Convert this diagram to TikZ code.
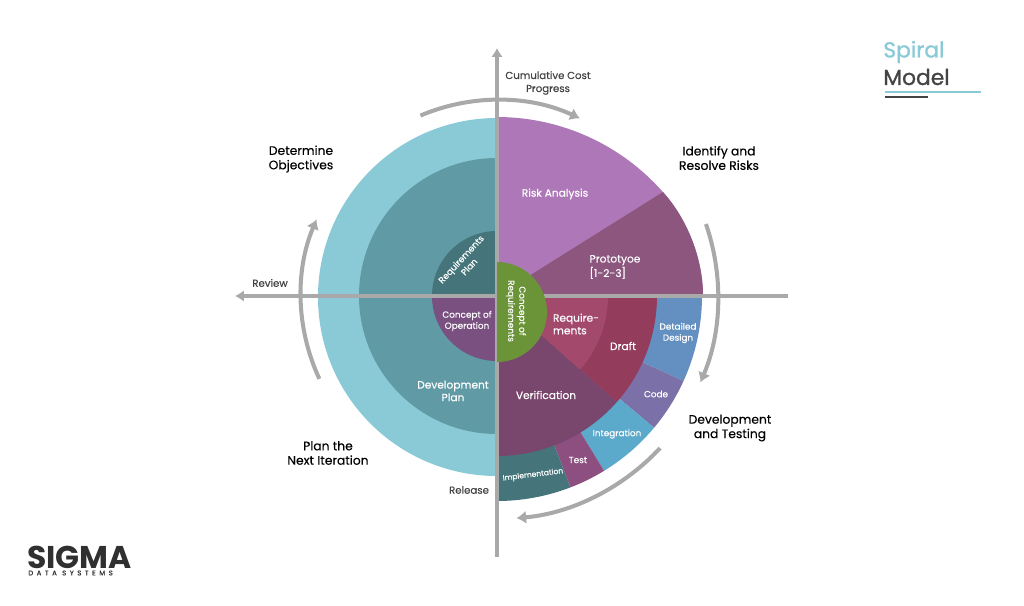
\documentclass[tikz,border=0pt]{standalone}
\usepackage{fontspec}
\setmainfont{Poppins}
\newfontfamily\labelfont[FakeBold=0.25]{Poppins}
\newfontfamily\titlefont[FakeBold=1.1]{Poppins}
\newfontfamily\logofont[LetterSpace=52, FakeBold=0.8]{Poppins}
\usepackage{xcolor}
\usetikzlibrary{
    arrows.meta,
    calc,
    positioning
}

\definecolor{lightteal}{HTML}{8ACAD6}
\definecolor{midteal}{HTML}{5F9AA5}
\definecolor{deepteal}{HTML}{45757B}
\definecolor{operpurple}{HTML}{7A5080}
\definecolor{riskviolet}{HTML}{AE78B8}
\definecolor{protoplum}{HTML}{8C567F}
\definecolor{reqrose}{HTML}{A34A6C}
\definecolor{draftred}{HTML}{933C5C}
\definecolor{verifplum}{HTML}{79466E}
\definecolor{detailblue}{HTML}{6390C0}
\definecolor{codeviolet}{HTML}{7C70A8}
\definecolor{integblue}{HTML}{5BA9CB}
\definecolor{testplum}{HTML}{8C4F80}
\definecolor{conceptgreen}{HTML}{6B9438}
\definecolor{axisgray}{HTML}{A9A9A9}
\definecolor{inkgray}{HTML}{444444}

\tikzset{
    inlabel/.style={text=white, font=\labelfont\fontsize{6.05}{7.2}\selectfont, align=center, inner sep=0pt},
    smalllabel/.style={inlabel, font=\labelfont\fontsize{5.05}{6.3}\selectfont},
    outlabel/.style={text=black, font=\labelfont\fontsize{7}{8.2}\selectfont, align=center, inner sep=0pt},
    notelabel/.style={text=inkgray, font=\labelfont\fontsize{5.8}{7.4}\selectfont, align=center, inner sep=0pt},
    axisline/.style={draw=axisgray, line width=2pt, -{Latex[length=5pt, width=6.5pt]}},
    sweep/.style={draw=axisgray, line width=2.3pt, -{Latex[length=5.5pt, width=7.5pt]}}
}

\newcommand{\slice}[4]{\fill[#1] (0, 0) -- (#2:#4) arc[start angle=#2, end angle=#3, radius=#4] -- cycle;}

\begin{document}
\begin{tikzpicture}[x=0.02cm, y=0.02cm]
    \useasboundingbox (-497, -309) rectangle (527, 296);

    \fill[lightteal] (0, 178) arc[start angle=90, end angle=270, radius=179] -- cycle;
    \fill[midteal] (0, 138) arc[start angle=90, end angle=270, radius=138] -- cycle;
    \slice{deepteal}{90}{180}{65}
    \slice{operpurple}{180}{270}{65}

    \fill[riskviolet] (0, 0) -- (0, 179) arc[start angle=90, end angle=41.5, radius=221] .. controls (190.5, 77) and (206, 37) .. (206, 0) -- cycle;
    \begin{scope}
        \clip (0, 0) -- (332, 208) -- (332, 0) -- cycle;
        \fill[protoplum] (0, 0) -- (0, 179) arc[start angle=90, end angle=41.5, radius=221] .. controls (190.5, 77) and (206, 37) .. (206, 0) -- cycle;
    \end{scope}

    \slice{detailblue}{0}{-24.5}{205}
    \slice{codeviolet}{-24.5}{-40}{205}
    \slice{integblue}{-40}{-58.5}{205}
    \slice{testplum}{-58.5}{-69}{205}
    \slice{deepteal}{-69}{-90}{205}
    \slice{verifplum}{-41.5}{-90}{160}
    \slice{draftred}{0}{-41.5}{160}
    \slice{reqrose}{0}{-41.5}{111}

    \coordinate (axisleft) at (-262, 0);
    \coordinate (axisright) at (291, 0);
    \coordinate (axistop) at (0, 248);
    \coordinate (axisbottom) at (0, -261);

    \draw[axisline] (axisright) -- (axisleft);
    \draw[axisline] (axisbottom) -- (axistop);

    \fill[conceptgreen] (0, 34) arc[start angle=90, end angle=-90, radius=50] -- cycle;

    \draw[sweep] (113:196) arc[start angle=113, end angle=65, radius=196];
    \draw[sweep] (19:221) arc[start angle=19, end angle=-23, radius=221];
    \draw[sweep] (-43:223) arc[start angle=-43, end angle=-85, radius=223];
    \draw[sweep] (205:196) arc[start angle=205, end angle=157, radius=196];

    \node[inlabel, align=left] (risklabel) at (58, 102) {Risk Analysis};
    \node[inlabel, align=left] (protolabel) at (118, 29) {Prototyoe\\{[1-2-3]}};
    \node[inlabel, align=left] (reqlabel) at (79, -28) {Require-\\ments};
    \node[inlabel] (draftlabel) at (126, -50) {Draft};
    \node[smalllabel] (detaillabel) at (181, -37) {Detailed\\Design};
    \node[smalllabel] (codelabel) at (159, -98) {Code};
    \node[smalllabel] (integlabel) at (120, -138) {Integration};
    \node[smalllabel] (testlabel) at (81, -164) {Test};
    \node[smalllabel, rotate=7, font=\labelfont\fontsize{4.3}{5}\selectfont] (implabel) at (36, -179) {Implementation};
    \node[inlabel] (veriflabel) at (49, -99) {Verification};
    \node[inlabel] (devplanlabel) at (-44, -95) {Development\\Plan};
    \node[smalllabel] (operlabel) at (-30, -25) {Concept of\\Operation};
    \node[smalllabel, rotate=47] (planlabel) at (-32, 33) {Requirements\\Plan};
    \node[smalllabel, rotate=-90] (conceptlabel) at (19, -15) {Concept of\\Requirements};

    \node[outlabel] (objectlabel) at (-196, 137) {Determine\\Objectives};
    \node[outlabel] (nextlabel) at (-169, -157) {Plan the\\Next Iteration};
    \node[outlabel] (risklabelb) at (222, 138) {Identify and\\Resolve Risks};
    \node[outlabel] (testinglabel) at (233, -132) {Development\\and Testing};
    \node[notelabel] (reviewlabel) at (-227, 13) {Review};
    \node[notelabel] (releaselabel) at (-28, -194) {Release};
    \node[notelabel] (costlabel) at (51, 213) {Cumulative Cost\\Progress};

    \node[anchor=west, inner sep=0pt, text=lightteal, font=\titlefont\fontsize{12.4}{12}\selectfont] (spiraltitle) at (386, 244) {Spiral};
    \node[anchor=west, inner sep=0pt, text=inkgray, font=\titlefont\fontsize{12.4}{12}\selectfont] (modeltitle) at (386, 219) {Model};
    \coordinate (ruleleft) at (388, 204);
    \coordinate (ruleright) at (484, 204);
    \coordinate (shortleft) at (388, 199);
    \coordinate (shortright) at (431, 199);
    \draw[lightteal, line width=0.8pt] (ruleleft) -- (ruleright);
    \draw[inkgray, line width=0.8pt] (shortleft) -- (shortright);

    \node[anchor=west, inner sep=0pt, text=inkgray!70!black, font=\fontsize{17.9}{17}\selectfont\bfseries] (logoname) at (-470, -261) {SIGMA};
    \node[anchor=west, inner sep=0pt, text=inkgray!70!black, font=\logofont\fontsize{3.9}{4}\selectfont] (logosub) at (-469, -277) {DATA SYSTEMS};
\end{tikzpicture}
\end{document}
